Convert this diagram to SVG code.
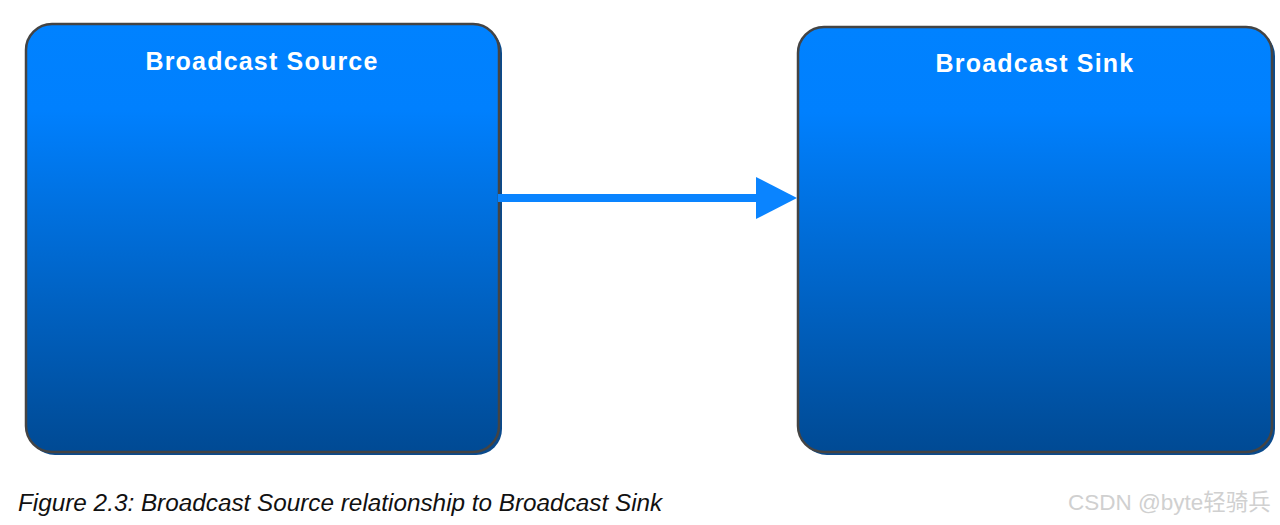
<svg xmlns="http://www.w3.org/2000/svg" width="1280" height="525" viewBox="0 0 1280 525">
<style>
.box{stroke:#444;stroke-width:2.5}
.shadow{fill:#0a4a8c}
.title{font-family:"Liberation Sans",Arial,sans-serif;font-weight:bold;font-size:25px;letter-spacing:1.2px;fill:#fff;text-anchor:middle}
.caption{font-family:"Liberation Sans",Arial,sans-serif;font-style:italic;font-size:24.3px;fill:#111}
.wm{font-family:"Liberation Sans","Noto Sans CJK SC",sans-serif;font-size:22.5px;fill:#d0d0d0}
</style>
<defs>
<linearGradient id="g" x1="0" y1="0" x2="0" y2="1">
<stop offset="0" stop-color="#0082ff"/>
<stop offset="0.2" stop-color="#0080fe"/>
<stop offset="1" stop-color="#004a94"/>
</linearGradient>
</defs>
<rect width="1280" height="525" fill="#fff"/>
<g id="source">
<rect class="shadow" x="29" y="27" width="473" height="428" rx="26"/>
<rect class="box" x="26" y="24" width="473" height="428" rx="26" fill="url(#g)"/>
<text class="title" x="262" y="70">Broadcast Source</text>
</g>
<g id="sink">
<rect class="shadow" x="801" y="30" width="474" height="425" rx="26"/>
<rect class="box" x="798" y="27" width="474" height="425" rx="26" fill="url(#g)"/>
<text class="title" x="1035" y="72">Broadcast Sink</text>
</g>
<g id="connectors">
<line x1="498" y1="198" x2="758" y2="198" stroke="#0a84ff" stroke-width="8"/>
<polygon points="756,177 797,198 756,219" fill="#0a84ff"/>
</g>
<text class="caption" x="18" y="511">Figure 2.3: Broadcast Source relationship to Broadcast Sink</text>
<text class="wm" x="1068" y="510">CSDN @byte轻骑兵</text>
</svg>
